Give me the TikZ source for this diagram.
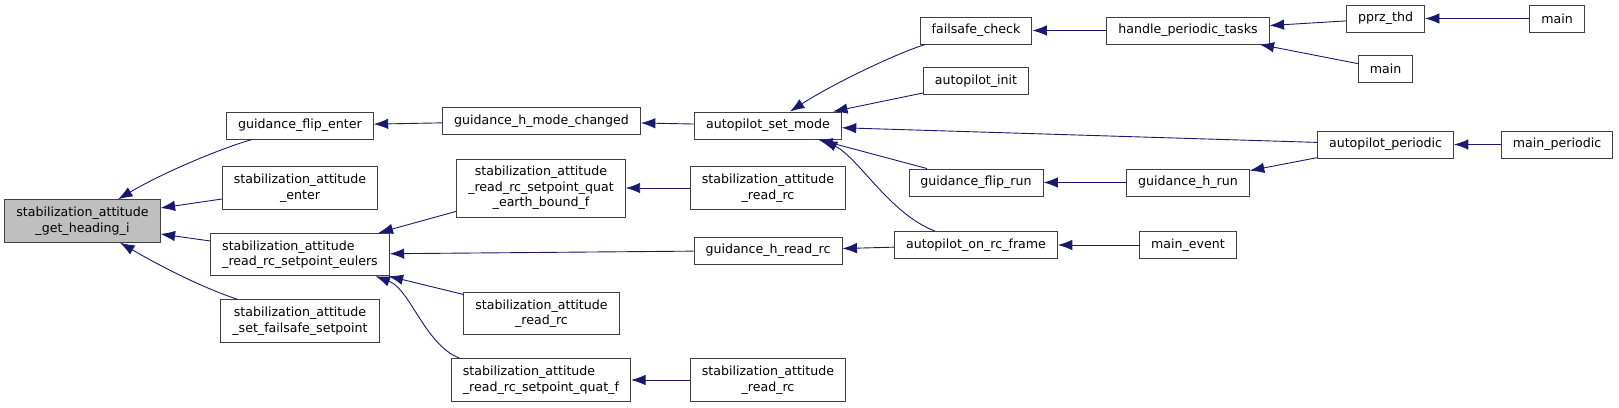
\documentclass[tikz,border=0pt]{standalone}
\usepackage{fontspec}
\setsansfont{DejaVu Sans}
\usepackage{tikz}
\usetikzlibrary{arrows.meta,positioning}
\usepackage{xcolor}
\definecolor{edgeblue}{RGB}{25,25,112}
\definecolor{boxline}{RGB}{64,64,64}
\tikzset{
  fnbox/.style={draw=boxline, fill=white, line width=0.9pt, align=center, inner xsep=11.5pt, inner ysep=7.2pt, minimum height=27pt, font=\sffamily\fontsize{12.6}{15.5}\selectfont},
  rootbox/.style={fnbox, fill=black!25},
  callarrow/.style={-{Latex[length=14.5pt,width=10.5pt]}, line width=0.9pt, draw=edgeblue}
}

\begin{document}
\begin{tikzpicture}[x=1pt, y=1pt, on grid]
\useasboundingbox (0,0) rectangle (1619,407);
\node[rootbox] (root) at (82.5,186) {stabilization\_attitude\\\_get\_heading\_i};
\node[fnbox, above right=95.5pt and 217.5pt of root] (flipenter) {guidance\_flip\_enter};
\node[fnbox, below=62.5pt of flipenter] (attenter) {stabilization\_attitude\\\_enter};
\node[fnbox, align=left, below=66.5pt of attenter] (eulers) {stabilization\_attitude\\\_read\_rc\_setpoint\_eulers};
\node[fnbox, below=66.5pt of eulers] (failsafesp) {stabilization\_attitude\\\_set\_failsafe\_setpoint};
\node[fnbox, above right=4.5pt and 241.5pt of flipenter] (modechanged) {guidance\_h\_mode\_changed};
\node[fnbox, right=241pt of attenter] (earthbound) {stabilization\_attitude\\\_read\_rc\_setpoint\_quat\\\_earth\_bound\_f};
\node[fnbox, below right=59pt and 241.5pt of eulers] (readrcb) {stabilization\_attitude\\\_read\_rc};
\node[fnbox, align=left, below right=59pt and 241pt of failsafesp] (quatf) {stabilization\_attitude\\\_read\_rc\_setpoint\_quat\_f};
\node[fnbox, below right=4.5pt and 226.5pt of modechanged] (setmode) {autopilot\_set\_mode};
\node[fnbox, right=227pt of earthbound] (readrca) {stabilization\_attitude\\\_read\_rc};
\node[fnbox, below=62.5pt of readrca] (hreadrc) {guidance\_h\_read\_rc};
\node[fnbox, right=227pt of quatf] (readrcc) {stabilization\_attitude\\\_read\_rc};
\node[fnbox, above right=95pt and 208pt of setmode] (failsafe) {failsafe\_check};
\node[fnbox, below=50.5pt of failsafe] (apinit) {autopilot\_init};
\node[fnbox, below=101.5pt of apinit] (fliprun) {guidance\_flip\_run};
\node[fnbox, below=62.5pt of fliprun] (onrcframe) {autopilot\_on\_rc\_frame};
\node[fnbox, right=212pt of failsafe] (periodictasks) {handle\_periodic\_tasks};
\node[fnbox, right=212pt of fliprun] (hrun) {guidance\_h\_run};
\node[fnbox, right=212pt of onrcframe] (mainevent) {main\_event};
\node[fnbox, above right=12pt and 197.5pt of periodictasks] (pprzthd) {pprz\_thd};
\node[fnbox, below=50.5pt of pprzthd] (mainb) {main};
\node[fnbox, below=75.5pt of mainb] (appperiodic) {autopilot\_periodic};
\node[fnbox, right=171.5pt of pprzthd] (maina) {main};
\node[fnbox, right=171.5pt of appperiodic] (mainperiodic) {main\_periodic};
\draw[callarrow] ([xshift=-48pt]flipenter.south) .. controls +(-37pt,-11pt) and +(42pt,25pt) .. ([xshift=35.5pt]root.north);
\draw[callarrow] ([yshift=-11pt]attenter.west) -- ([yshift=13pt]root.east);
\draw[callarrow] ([yshift=13.5pt]eulers.west) -- ([yshift=-13pt]root.east);
\draw[callarrow] ([xshift=-62.5pt]failsafesp.north) .. controls +(-30pt,10pt) and +(50pt,-29pt) .. ([xshift=37.5pt]root.south);
\draw[callarrow] (modechanged) -- (flipenter);
\draw[callarrow] (setmode) -- (modechanged);
\draw[callarrow] ([xshift=-50.5pt]failsafe.south) .. controls +(-30pt,-9pt) and +(40pt,26pt) .. ([xshift=22pt]setmode.north);
\draw[callarrow] ([yshift=-12pt]apinit.west) -- ([xshift=65pt]setmode.north);
\draw[callarrow] (appperiodic) -- (setmode);
\draw[callarrow] ([xshift=-49pt]fliprun.north) -- ([xshift=50pt]setmode.south);
\draw[callarrow] ([xshift=-41pt]onrcframe.north) .. controls +(-45pt,17pt) and +(37pt,-20pt) .. ([xshift=55pt]setmode.south);
\draw[callarrow] (periodictasks) -- (failsafe);
\draw[callarrow] (pprzthd) -- (periodictasks);
\draw[callarrow] (mainb) -- (periodictasks);
\draw[callarrow] (maina) -- (pprzthd);
\draw[callarrow] (mainperiodic) -- (appperiodic);
\draw[callarrow] (hrun) -- (fliprun);
\draw[callarrow] (appperiodic) -- (hrun);
\draw[callarrow] (mainevent) -- (onrcframe);
\draw[callarrow] (onrcframe) -- (hreadrc);
\draw[callarrow] (hreadrc) -- (eulers);
\draw[callarrow] (earthbound) -- (eulers);
\draw[callarrow] (readrcb) -- (eulers);
\draw[callarrow] ([xshift=-81pt]quatf.north) .. controls +(-35pt,13pt) and +(35pt,-13pt) .. ([xshift=75.5pt]eulers.south);
\draw[callarrow] (readrca) -- (earthbound);
\draw[callarrow] (readrcc) -- (quatf);
\end{tikzpicture}
\end{document}
